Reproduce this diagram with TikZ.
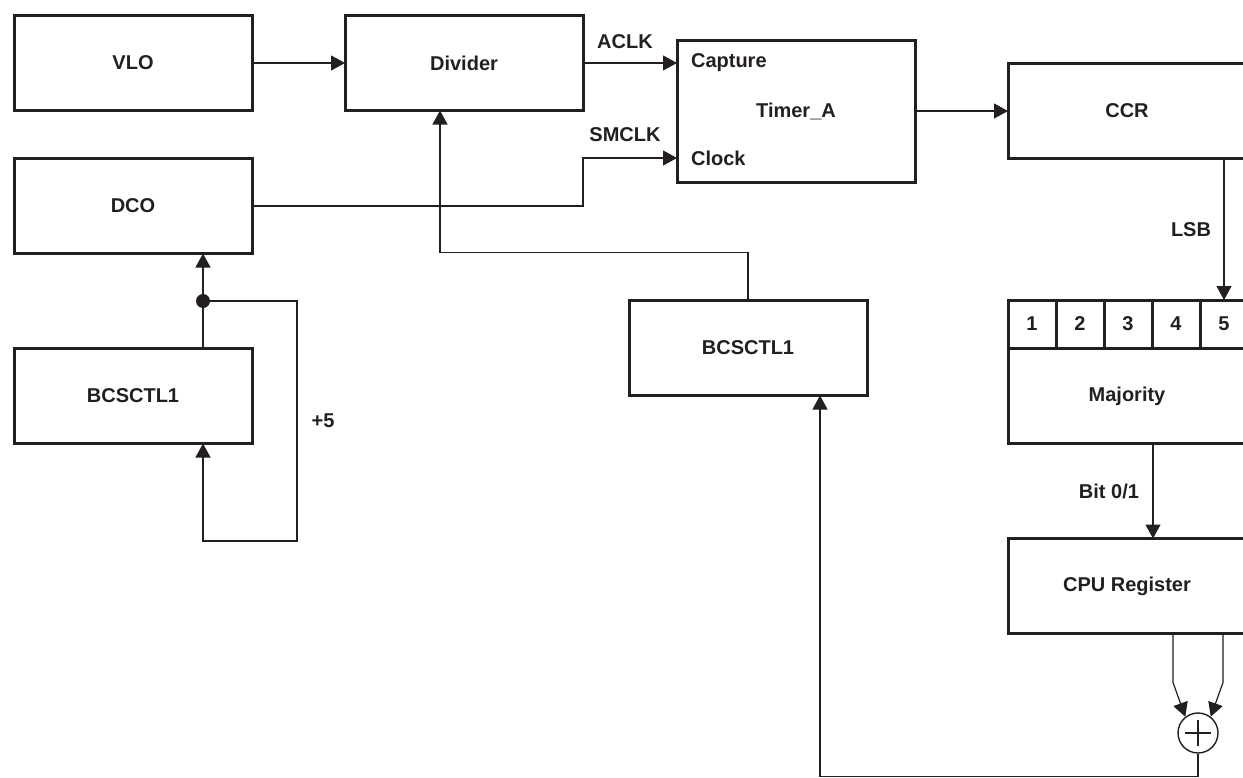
\documentclass[tikz,border=0pt]{standalone}
\usepackage{fontspec}
\setmainfont{Liberation Sans}
\usetikzlibrary{arrows.meta,positioning,calc}
\usepackage{xcolor}
\definecolor{ink}{HTML}{231F20}

\begin{document}
\begin{tikzpicture}[x=0.5pt, y=-0.5pt,
  node distance=24pt and 46.5pt,
  box/.style={draw=ink, line width=1.5pt, outer sep=0pt, minimum width=119pt, minimum height=47.5pt, font=\bfseries, text=ink},
  cell/.style={draw=ink, line width=1.5pt, outer sep=0pt, minimum width=24pt, minimum height=24pt, font=\bfseries, text=ink},
  lbl/.style={font=\bfseries, text=ink},
  arr/.style={-{Triangle[length=7pt, width=7.5pt]}, ink, line width=0.6pt}
]
\useasboundingbox (0,0) rectangle (1243,777);

\node[box] (vlo) at (133,63) {VLO};
\node[box, right=of vlo] (div) {Divider};
\node[box, minimum height=71pt] (timer) at (796,111) {Timer\_A};
\node[box, right=of timer] (ccr) {CCR};
\node[box, below=of vlo] (dco) {DCO};
\node[box, below=47.5pt of dco] (bcl) {BCSCTL1};
\node[box] (bcm) at (748,348) {BCSCTL1};

\node[lbl, anchor=west] (capt) at (684,63) {Capture};
\node[lbl, anchor=west] (clk) at (684,158) {Clock};

\foreach \i in {1,...,5}
  \node[cell] (c\i) at ({984+48*\i},324) {\i};
\node[box] (maj) at (1127,396) {Majority};
\node[box, below=47.5pt of maj] (cpu) {CPU Register};
\node[draw=ink, line width=0.7pt, circle, minimum size=20pt, inner sep=0pt] (xor) at (1198,733) {};
\draw[ink, line width=0.7pt] ([yshift=6.5pt]xor.center) -- ([yshift=-6.5pt]xor.center)
  ([xshift=-6.5pt]xor.center) -- ([xshift=6.5pt]xor.center);

\node[lbl] (aclk) at (625,42) {ACLK};
\node[lbl] (smclk) at (625,135) {SMCLK};
\node[lbl] (lsb) at (1191,230) {LSB};
\node[lbl] (bit) at (1109,491) {Bit 0/1};
\node[lbl] (plus5) at (323,421) {+5};

\draw[arr] (vlo) -- (div); \draw[arr] (div.east) -- (div.east -| timer.west);
\draw[arr] (dco.east) -- ++(331,0) |- (clk.west -| timer.west);
\draw[arr] (timer) -- (ccr);
\draw[arr] (bcm.north) -- ++(0,-48) -| ([xshift=-12pt]div.south);
\draw[arr] ([xshift=35pt]bcl.north) -- ([xshift=35pt]dco.south);
\coordinate (dot) at ($([xshift=35pt]bcl.north)!0.5!([xshift=35pt]dco.south)$);
\fill[ink] (dot) circle (3.5pt);
\draw[arr] (dot) -- ++(94,0) -- ++(0,240) -| ([xshift=35pt]bcl.south);
\draw[arr] (c5.north |- ccr.south) -- (c5.north);
\draw[arr] ([xshift=13pt]maj.south) -- ([xshift=13pt]cpu.north);
\draw[arr] ([xshift=-12.5pt]xor.north |- cpu.south) -- ++(0,49) -- (xor.128);
\draw[arr] ([xshift=12.5pt]xor.north |- cpu.south) -- ++(0,49) -- (xor.52);
\draw[arr] (xor.south) -- ++(0,23) -| ([xshift=36pt]bcm.south);
\end{tikzpicture}
\end{document}
